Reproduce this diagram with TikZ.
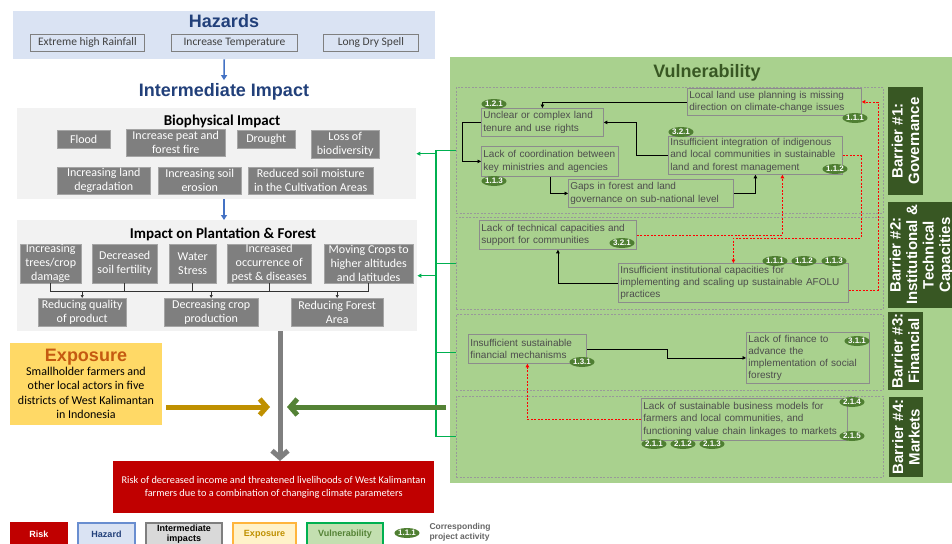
\documentclass[tikz,border=0pt]{standalone}
\usepackage{fontspec}
\setmainfont{Carlito}
\setsansfont{Liberation Sans}
\usetikzlibrary{arrows.meta,positioning,shapes.geometric}

\newcommand\setfs[2]{\fontsize{#1}{#2}\selectfont}

\definecolor{hazblue}{HTML}{DAE3F3}
\definecolor{hazdark}{HTML}{22407A}
\definecolor{hazline}{HTML}{4472C4}
\definecolor{panelgray}{HTML}{F2F2F2}
\definecolor{impgray}{HTML}{7F7F7F}
\definecolor{expyellow}{HTML}{FFD966}
\definecolor{expotitle}{HTML}{C55A11}
\definecolor{goldarrow}{HTML}{BF9000}
\definecolor{riskred}{HTML}{C00000}
\definecolor{vulgreen}{HTML}{A9D18E}
\definecolor{vuldark}{HTML}{385723}
\definecolor{greenarrow}{HTML}{548235}
\definecolor{busgreen}{HTML}{00B050}
\definecolor{badgegreen}{HTML}{4F7F32}
\definecolor{vultext}{HTML}{4D4D4D}

\tikzset{
  wh/.style 2 args={minimum width=#1pt, minimum height=#2pt},
  headtext/.style={font=\sffamily\bfseries\setfs{18}{20}, anchor=base},
  paneltitle/.style={font=\bfseries\setfs{15}{17}, anchor=base},
  panel/.style={fill=panelgray, anchor=north west, inner sep=0pt},
  hazbox/.style={draw=impgray, line width=0.8pt, fill=hazblue, text=black!75, font=\setfs{11.5}{13}, anchor=north west, inner sep=0pt},
  impbox/.style={fill=impgray, draw=impgray!70!white, text=white, align=center, font=\setfs{12}{14}, anchor=north west, inner xsep=1pt, inner ysep=0pt},
  bluearr/.style={draw=hazline, line width=1.6pt, -{Triangle[length=5pt,width=6pt]}},
  busline/.style={draw=black!80, line width=0.7pt},
  bigarrow/.style={line width=5pt, -{Straight Barb[length=7pt,width=16pt]}},
  vulbox/.style={draw=black!45, line width=0.8pt, text=vultext, align=left, font=\sffamily\setfs{10}{12.3}, anchor=north west, inner xsep=2pt, inner ysep=1pt},
  badge/.style={ellipse, fill=badgegreen, text=white, font=\sffamily\bfseries\setfs{8}{9}, inner sep=0pt, minimum width=25pt, minimum height=10pt},
  grp/.style={draw=black!40, dash pattern=on 2pt off 1.5pt, line width=0.6pt, anchor=north west, inner sep=0pt},
  barrier/.style={fill=vuldark, text=white, rotate=90, align=center, font=\sffamily\bfseries\setfs{15}{16.5}, inner sep=0pt},
  conn/.style={draw=black, line width=0.7pt, -{Triangle[length=3.5pt,width=3.5pt]}},
  redconn/.style={draw=red, line width=0.8pt, dash pattern=on 2pt off 1.5pt, -{Triangle[length=3.5pt,width=3.5pt]}},
  greenline/.style={draw=busgreen, line width=1.3pt},
  legbox/.style={line width=2pt, anchor=north west, inner sep=0pt, font=\sffamily\bfseries\setfs{9}{10}, align=center},
}

\begin{document}
\begin{tikzpicture}[x=1pt, y=-1pt]
  \useasboundingbox (0,0) rectangle (952,543);
  \clip (0,0) rectangle (952,543);
  \fill[white] (0,0) rectangle (952,543);

  % hazards
  \node[panel, fill=hazblue, wh={422}{48}] (hazpanel) at (13,11) {};
  \node[headtext, text=hazdark] (hazt) at (224,27.3) {Hazards};
  \node[hazbox, wh={114}{17}] (rain) at (30,34) {Extreme high Rainfall};
  \node[hazbox, wh={126}{17}] (temp) at (171,34) {Increase Temperature};
  \node[hazbox, wh={95}{17}] (dry) at (323,34) {Long Dry Spell};
  \node[headtext, text=hazdark] (intt) at (224,96.7) {Intermediate Impact};
  \draw[bluearr] (hazpanel.south) -- (intt.north);

  % biophysical impact
  \node[panel, wh={399}{91}] (biopanel) at (17,108) {};
  \node[paneltitle] (biot) at (222,125) {Biophysical Impact};
  \node[impbox, wh={53}{18}] (flood) at (57,130) {Flood};
  \node[impbox, wh={99}{27}] (fire) at (126,129) {Increase peat and\\forest fire};
  \node[impbox, wh={58}{18}] (drought) at (237,130) {Drought};
  \node[impbox, wh={68}{28}] (biodiv) at (311,130) {Loss of\\biodiversity};
  \node[impbox, wh={93}{27}] (landdeg) at (57,167) {Increasing land\\degradation};
  \node[impbox, wh={83}{27}] (erosion) at (158,167) {Increasing soil\\erosion};
  \node[impbox, wh={125}{27}] (moisture) at (248,167) {Reduced soil moisture\\in the Cultivation Areas};

  % impact on plantation & forest
  \node[panel, wh={400}{111}] (plantpanel) at (17,220) {};
  \draw[bluearr] (biopanel.south -| intt) -- (plantpanel.north -| intt);
  \node[paneltitle] (plantt) at (223,238.3) {Impact on Plantation \& Forest};
  \node[impbox, wh={61}{39}] (damage) at (20,244) {Increasing\\trees/crop\\damage};
  \node[impbox, wh={65}{39}] (fertility) at (92,244) {Decreased\\soil fertility};
  \node[impbox, wh={47}{39}] (water) at (169,244) {Water\\Stress};
  \node[impbox, wh={84}{39}] (pest) at (227,244) {Increased\\occurrence of\\pest \& diseases};
  \node[impbox, wh={89}{39}] (moving) at (324,244) {Moving Crops to\\higher altitudes\\and latitudes};
  \node[impbox, wh={88}{28}] (quality) at (38,298) {Reducing quality\\of product};
  \node[impbox, wh={94}{28}] (production) at (164,298) {Decreasing crop\\production};
  \node[impbox, wh={92}{28}] (forestarea) at (291,298) {Reducing Forest\\Area};
  \coordinate (bus) at (0,291);
  \draw[busline] (damage.south) -- (damage.south |- bus) -- (moving.south |- bus) -- (moving.south);
  \foreach \n in {fertility,water,pest}
    \draw[busline] (\n.south) -- (\n.south |- bus);
  \foreach \n in {quality,production,forestarea}
    \draw[busline, -{Triangle[length=3pt,width=3pt]}] (\n.north |- bus) -- (\n.north);

  % exposure and risk
  \node[panel, fill=expyellow, wh={152}{82}] (expo) at (10,343) {};
  \node[headtext, text=expotitle] (expot) at (86,361.7) {Exposure};
  \node[font=\setfs{12}{14.3}, align=center] (expotxt) at (86,393) {Smallholder farmers and\\other local actors in five\\districts of West Kalimantan\\in Indonesia};
  \node[panel, fill=riskred, wh={321}{52}, text=white, font=\setfs{10.3}{12.7}, align=center] (risk) at (113,461)
    {Risk of decreased income and threatened livelihoods of West Kalimantan\\farmers due to a combination of changing climate parameters};

  % vulnerability
  \node[panel, fill=vulgreen, wh={510}{426}] (vulpanel) at (450,57) {};
  \node[headtext, text=vuldark] (vult) at (707,77.3) {Vulnerability};
  \node[grp, wh={427}{126}] (g1) at (456,87) {};
  \node[grp, wh={427}{92}] (g2) at (456,217) {};
  \node[grp, wh={427}{76}] (g3) at (456,314) {};
  \node[grp, wh={427}{81}] (g4) at (456,396) {};
  \node[barrier, wh={108}{35}] (bar1) at (905.5,141) {Barrier \#1:\\Governance};
  \node[barrier, wh={106}{67}] (bar2) at (921.5,255) {Barrier \#2:\\Institutional \&\\Technical\\Capacities};
  \node[barrier, wh={78}{35}] (bar3) at (905.5,351) {Barrier \#3:\\Financial};
  \node[barrier, wh={80}{34}] (bar4) at (906,437) {Barrier \#4:\\Markets};

  % barrier 1
  \node[vulbox, text width=170pt, minimum height=27pt] (landplan) at (687,88) {Local land use planning is missing\\direction on climate-change issues};
  \node[vulbox, text width=118pt, minimum height=28pt] (tenure) at (481,108) {Unclear or complex land\\tenure and use rights};
  \node[vulbox, text width=133pt, minimum height=30pt] (coord) at (481,146) {Lack of coordination between\\key ministries and agencies};
  \node[vulbox, text width=170pt, minimum height=38pt] (integ) at (668,136) {Insufficient integration of indigenous\\and local communities in sustainable\\land and forest management};
  \node[vulbox, text width=161pt, minimum height=28pt] (gaps) at (568,179) {Gaps in forest and land\\governance on sub-national level};
  \draw[conn] (landplan.west) -| (tenure.north);
  \draw[conn] (integ.west) -- ++(-32,0) |- (tenure.east);
  \draw[conn] (tenure.west) -- ++(-19,0) |- (coord.west);
  \draw[conn] (coord.south) |- (gaps.west);
  \draw[conn] (gaps.east) -| (integ.south);

  % barrier 2
  \node[vulbox, text width=153pt, minimum height=29pt] (techcap) at (479,220) {Lack of technical capacities and\\support for communities};
  \node[vulbox, text width=226pt, minimum height=39pt] (instcap) at (618,263) {Insufficient institutional capacities for\\implementing and scaling up sustainable AFOLU\\practices};
  \draw[conn] (instcap.west) -| (techcap.south);

  % barrier 3 and 4
  \node[vulbox, text width=114pt, minimum height=29pt] (finmech) at (468,334) {Insufficient sustainable\\financial mechanisms};
  \node[vulbox, text width=119pt, minimum height=51pt] (finance) at (746,332) {Lack of finance to\\advance the\\implementation of social\\forestry};
  \node[vulbox, text width=202pt, minimum height=42pt] (business) at (641,398) {Lack of sustainable business models for\\farmers and local communities, and\\functioning value chain linkages to markets};
  \draw[conn] (finmech.east) -- ++(81,0) |- (finance.west);

  % dashed links between barriers
  \coordinate (redA) at (878,0);
  \coordinate (redB) at (861,238);
  \draw[redconn] ([yshift=-7pt]instcap.east) -| (redA |- landplan.east) -- (landplan.east);
  \draw[redconn] (integ.east) -| (redB) -| (instcap.north);
  \draw[redconn] (techcap.east) -| ([xshift=27pt]integ.south);
  \draw[redconn] (business.west) -| (finmech.south);

  % project activities
  \node[badge] (a121) at (494,104) {1.2.1};
  \node[badge] (a111) at (855,118) {1.1.1};
  \node[badge] (a321) at (681,132) {3.2.1};
  \node[badge] (a112) at (835,169) {1.1.2};
  \node[badge] (a113) at (494,181) {1.1.3};
  \node[badge] (b321) at (622,243) {3.2.1};
  \node[badge] (b111) at (775,261) {1.1.1};
  \node[badge] (b112) at (804,261) {1.1.2};
  \node[badge] (b113) at (834,261) {1.1.3};
  \node[badge] (c131) at (582,362) {1.3.1};
  \node[badge] (c311) at (857,341) {3.1.1};
  \node[badge] (d214) at (852,402) {2.1.4};
  \node[badge] (d215) at (852,436) {2.1.5};
  \node[badge] (d211) at (654,444) {2.1.1};
  \node[badge] (d212) at (683,444) {2.1.2};
  \node[badge] (d213) at (712,444) {2.1.3};

  % green links to impacts
  \coordinate (vbus) at (436,0);
  \draw[greenline] (g1.west -| vbus) -- (g4.west -| vbus);
  \foreach \g in {g1,g2,g3,g4}
    \draw[greenline] (\g.west -| vbus) -- (\g.west);
  \draw[greenline, -{Triangle[length=4pt,width=4pt]}] (biopanel.east -| vbus) -- (biopanel.east);
  \draw[greenline, -{Triangle[length=4pt,width=4pt]}] (plantpanel.east -| vbus) -- (plantpanel.east);

  % big arrows
  \coordinate (meet) at (280,407);
  \draw[bigarrow, draw=impgray] (plantpanel.south -| meet) -- (risk.north -| meet);
  \draw[bigarrow, draw=goldarrow] ([xshift=4pt]expo.east |- meet) -- ([xshift=-10pt]meet);
  \draw[bigarrow, draw=greenarrow] ([xshift=-4pt]vulpanel.west |- meet) -- ([xshift=7pt]meet);

  % legend
  \node[legbox, fill=riskred, draw=riskred, text=white, wh={56}{22}] (lrisk) at (10,522) {Risk};
  \node[legbox, fill=hazblue, draw=hazline!80, text=hazdark, wh={57}{22}] (lhaz) at (77,522) {Hazard};
  \node[legbox, fill=black!15, draw=impgray, text=black, wh={76}{22}] (limp) at (145,522) {Intermediate\\impacts};
  \node[legbox, fill=expyellow!35, draw=expyellow!60!orange, text=goldarrow, wh={63}{22}] (lexp) at (232,522) {Exposure};
  \node[legbox, fill=vulgreen!70, draw=busgreen, text=greenarrow, wh={76}{22}] (lvul) at (306,522) {Vulnerability};
  \node[badge] (lbadge) at (407,533) {1.1.1};
  \node[font=\sffamily\bfseries\setfs{8.5}{10}, text=black!60, align=left, anchor=west] (lbadgetxt) at (426,532) {Corresponding\\project activity};
\end{tikzpicture}
\end{document}
